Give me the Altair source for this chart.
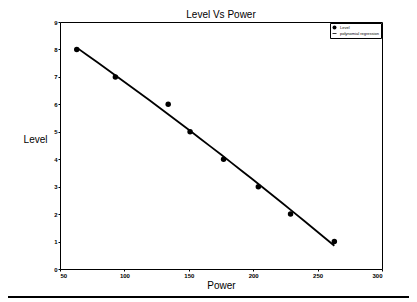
import altair as alt
import pandas as pd

power = [63, 93, 134, 151, 177, 204, 229, 263]
level = [8, 7, 6, 5, 4, 3, 2, 1]
series_names = ["Level", "polynomial regression"]

df = pd.DataFrame({"power": power, "level": level, "series": series_names[0]})

FONT = "Liberation Sans"

xscale = alt.Scale(domain=[50, 300], nice=False, zero=False)
yscale = alt.Scale(domain=[0, 9], nice=False, zero=False)

xaxis = alt.Axis(values=[50, 100, 150, 200, 250, 300], title="Power", grid=False,
                 tickSize=2, labelFontSize=6, labelFontWeight="bold", titleFontSize=10,
                 titleFontWeight="normal", titlePadding=2, labelPadding=1, domain=False,
                 labelColor="black", titleColor="black", tickColor="black",
                 labelOverlap=False)
yaxis = alt.Axis(values=list(range(10)), title="Level", grid=False, tickSize=2,
                 labelFontSize=6, labelFontWeight="bold", titleFontSize=10,
                 titleFontWeight="normal", titleAngle=0, titleAlign="right",
                 titleBaseline="middle", titleX=-13, titleY=117, labelPadding=1,
                 domain=False, labelColor="black", titleColor="black", tickColor="black",
                 labelOverlap=False)

base = alt.Chart(df)

reg = base.transform_regression("power", "level", method="poly", order=2).mark_line(
    color="black", strokeWidth=1.8
).encode(
    x=alt.X("power:Q", scale=xscale, axis=xaxis),
    y=alt.Y("level:Q", scale=yscale, axis=yaxis),
)

pts = base.mark_point(filled=True, color="black", opacity=1, size=30).encode(
    x=alt.X("power:Q", scale=xscale, axis=xaxis),
    y=alt.Y("level:Q", scale=yscale, axis=yaxis),
    shape=alt.Shape("series:N",
                    scale=alt.Scale(domain=series_names,
                                    range=["circle", "M-1,-0.2H1V0.2H-1Z"]),
                    legend=alt.Legend(title=None, orient="top-right", offset=1,
                                      labelFontSize=4, symbolSize=16,
                                      symbolFillColor="black", symbolStrokeColor="black",
                                      symbolStrokeWidth=0.5, labelColor="black",
                                      strokeColor="black", padding=2, rowPadding=0,
                                      labelOffset=3)),
)

bottom_rule = alt.Chart(df).mark_rule(color="black", strokeWidth=1.5, clip=False).encode(
    x=alt.value(-60), x2=alt.value(357), y=alt.value(275)
)

chart = alt.layer(reg, pts, bottom_rule).properties(
    width=322, height=247,
    title=alt.Title("Level Vs Power", fontSize=10, font=FONT, fontWeight="normal",
                    offset=-1, color="black", frame="group"),
    autosize=alt.AutoSizeParams(type="none"),
    padding={"left": 52, "top": 14, "right": 27, "bottom": 30},
).configure(font=FONT).configure_view(stroke="black", strokeWidth=1)

chart.save("out.html", embed_options={"renderer": "svg", "actions": False})
